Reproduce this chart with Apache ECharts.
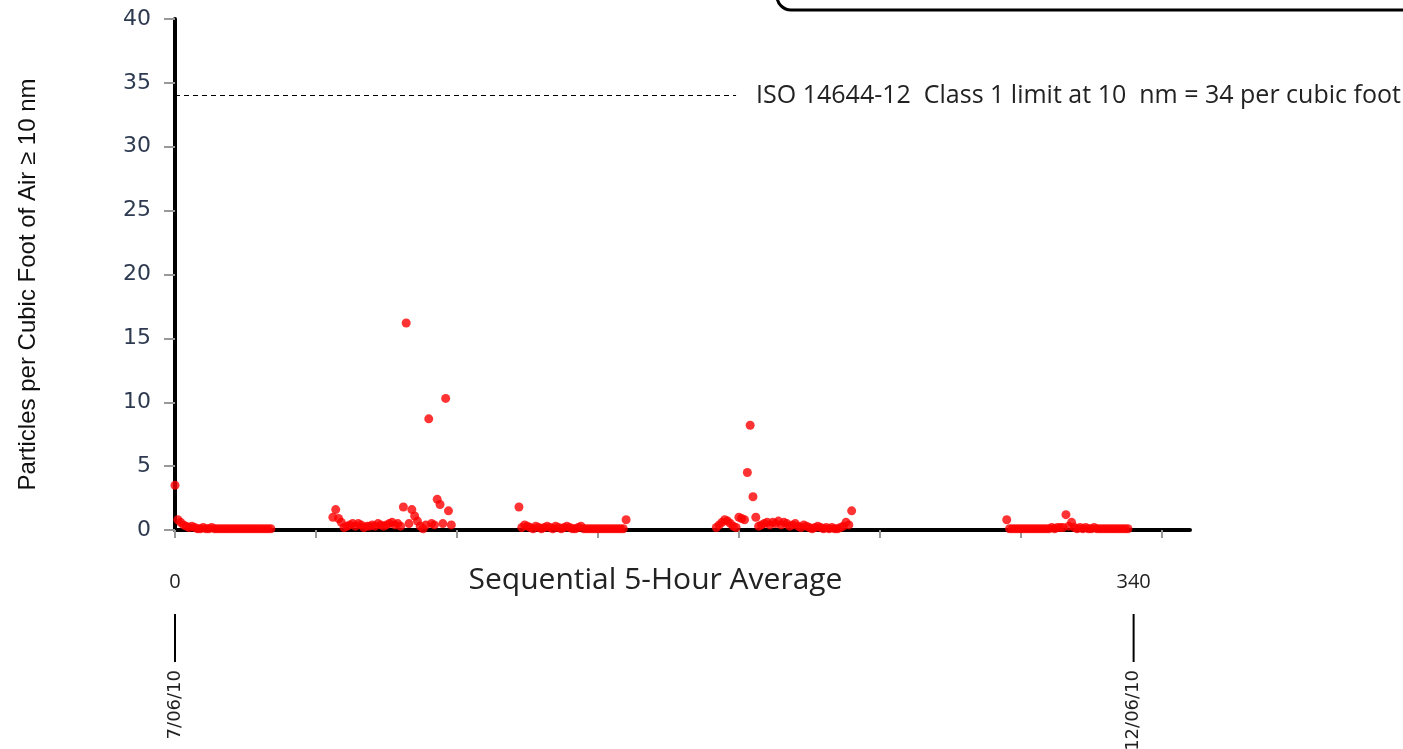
<!DOCTYPE html>
<html>
<head>
<meta charset="utf-8">
<script src="https://cdn.jsdelivr.net/npm/echarts@6/dist/echarts.min.js"></script>
<style>
html, body { margin: 0; padding: 0; background: #fff; }
#chart { width: 1403px; height: 749px; }
</style>
</head>
<body>
<div id="chart"></div>
<script>
// 5-hour averages, each run starts at its own index
var run1Start = 0;
var run1 = [3.5, 0.8, 0.6, 0.4, 0.3, 0.2, 0.3, 0.2, 0.1, 0.1, 0.2, 0.1, 0.1, 0.2, 0.1, 0.1, 0.1, 0.1,
    0.1, 0.1, 0.1, 0.1, 0.1, 0.1, 0.1, 0.1, 0.1, 0.1, 0.1, 0.1, 0.1, 0.1, 0.1, 0.1, 0.1];
var run2Start = 56;
var run2 = [1.0, 1.6, 0.9, 0.6, 0.2, 0.3, 0.4, 0.5, 0.3, 0.5, 0.4, 0.2, 0.3, 0.3, 0.4, 0.3, 0.5, 0.4,
    0.3, 0.4, 0.5, 0.6, 0.4, 0.5, 0.3, 1.8, 16.2, 0.5, 1.6, 1.1, 0.7, 0.3, 0.1, 0.4, 8.7, 0.5, 0.4,
    2.4, 2.0, 0.5, 10.3, 1.5, 0.4];
var run3Start = 122;
var run3 = [1.8, 0.2, 0.4, 0.3, 0.2, 0.1, 0.3, 0.2, 0.1, 0.2, 0.3, 0.2, 0.1, 0.3, 0.2, 0.1, 0.2, 0.3,
    0.2, 0.1, 0.1, 0.2, 0.3, 0.1, 0.1, 0.1, 0.1, 0.1, 0.1, 0.1, 0.1, 0.1, 0.1, 0.1, 0.1, 0.1, 0.1, 0.1, 0.8];
var run4Start = 192;
var run4 = [0.2, 0.4, 0.6, 0.8, 0.7, 0.5, 0.3, 0.2, 1.0, 0.9, 0.8, 4.5, 8.2, 2.6, 1.0, 0.3, 0.4, 0.5,
    0.6, 0.4, 0.6, 0.5, 0.7, 0.4, 0.6, 0.5, 0.3, 0.4, 0.5, 0.3, 0.2, 0.4, 0.3, 0.2, 0.1, 0.2, 0.3, 0.2,
    0.1, 0.2, 0.1, 0.2, 0.1, 0.1, 0.2, 0.3, 0.6, 0.4, 1.5];
var run5Start = 295;
var run5 = [0.8, 0.1, 0.1, 0.1, 0.1, 0.1, 0.1, 0.1, 0.1, 0.1, 0.1, 0.1, 0.1, 0.1, 0.1, 0.1, 0.2, 0.1,
    0.2, 0.2, 0.2, 1.2, 0.3, 0.6, 0.2, 0.1, 0.2, 0.1, 0.2, 0.1, 0.1, 0.2, 0.1, 0.1, 0.1, 0.1, 0.1, 0.1,
    0.1, 0.1, 0.1, 0.1, 0.1, 0.1];

var xTicks = [0, 50, 100, 150, 200, 250, 300, 350];
var isoLimit = 34;
var isoLabel = 'ISO 14644-12  Class 1 limit at 10  nm = 34 per cubic foot';
var endLabels = [0, 340];
var endDates = {0: '7/06/10', 340: '12/06/10'};

function toPoints(start, vals) {
    var out = [];
    for (var i = 0; i < vals.length; i++) {
        out.push([start + i, vals[i]]);
    }
    return out;
}

var points = [].concat(
    toPoints(run1Start, run1),
    toPoints(run2Start, run2),
    toPoints(run3Start, run3),
    toPoints(run4Start, run4),
    toPoints(run5Start, run5)
);

var chart = echarts.init(document.getElementById('chart'));

var option = {
    animation: false,
    grid: {
        left: 175, top: 19, right: 213, bottom: 219,
        outerBoundsMode: 'none'
    },
    xAxis: [
        {
            type: 'value',
            min: 0,
            max: 360,
            interval: 50,
            splitLine: { show: false },
            axisLine: { show: true, onZero: false, lineStyle: { color: '#000', width: 4 } },
            axisTick: { show: true, customValues: xTicks, length: 8, lineStyle: { color: '#999', width: 2 } },
            axisLabel: {
                customValues: endLabels,
                margin: 42,
                fontFamily: 'Open Sans',
                fontSize: 20,
                color: '#222'
            },
            name: 'Sequential 5-Hour Average',
            nameLocation: 'middle',
            nameGap: 35,
            nameMoveOverlap: false,
            nameTextStyle: {
                fontFamily: 'Open Sans',
                fontSize: 30,
                color: '#222',
                padding: [0, 54, 0, 0]
            }
        },
        {
            // dates under the first and last average
            type: 'value',
            min: 0,
            max: 360,
            position: 'bottom',
            splitLine: { show: false },
            axisLine: { show: false },
            axisTick: { show: false },
            axisLabel: {
                customValues: endLabels,
                rotate: 90,
                margin: 140,
                fontFamily: 'DejaVu Sans',
                fontSize: 18,
                color: '#222',
                formatter: function (v) { return endDates[v] || ''; }
            }
        }
    ],
    yAxis: {
        type: 'value',
        min: 0,
        max: 40,
        interval: 5,
        splitLine: { show: false },
        axisLine: { show: true, lineStyle: { color: '#000', width: 4 } },
        axisTick: { show: true, length: 11, lineStyle: { color: '#999', width: 2 } },
        axisLabel: {
            margin: 24,
            fontFamily: 'DejaVu Sans',
            fontSize: 22,
            color: '#2e3a50'
        },
        name: 'Particles per Cubic Foot of Air \u2265 10 nm',
        nameLocation: 'middle',
        nameGap: 135,
        nameRotate: 90,
        nameMoveOverlap: false,
        nameTextStyle: {
            fontFamily: 'Liberation Sans',
            fontSize: 24,
            color: '#111',
            padding: [0, 20, 0, 0]
        }
    },
    series: [{
        type: 'scatter',
        xAxisIndex: 0,
        data: points,
        symbolSize: 9,
        itemStyle: { color: '#ff0000' },
        markLine: {
            silent: true,
            symbol: 'none',
            lineStyle: { color: '#000', type: [5, 4], width: 1 },
            label: {
                show: true,
                position: 'end',
                distance: 20,
                formatter: isoLabel,
                fontFamily: 'Open Sans',
                fontSize: 25,
                color: '#222'
            },
            data: [[{ coord: [0, isoLimit] }, { coord: [199, isoLimit] }]]
        }
    }],
    graphic: [{
        type: 'rect',
        shape: { x: 777, y: -40, width: 720, height: 50, r: 14 },
        style: { fill: 'none', stroke: '#000', lineWidth: 3 }
    }]
};

chart.setOption(option);

// short vertical markers between the end labels and the dates
var markers = endLabels.map(function (v) {
    var px = chart.convertToPixel({ xAxisIndex: 0 }, v);
    return {
        type: 'line',
        shape: { x1: px, y1: 614, x2: px, y2: 662 },
        style: { stroke: '#000', lineWidth: 2 }
    };
});
chart.setOption({ graphic: option.graphic.concat(markers) });

window.onresize = chart.resize;
</script>
</body>
</html>
